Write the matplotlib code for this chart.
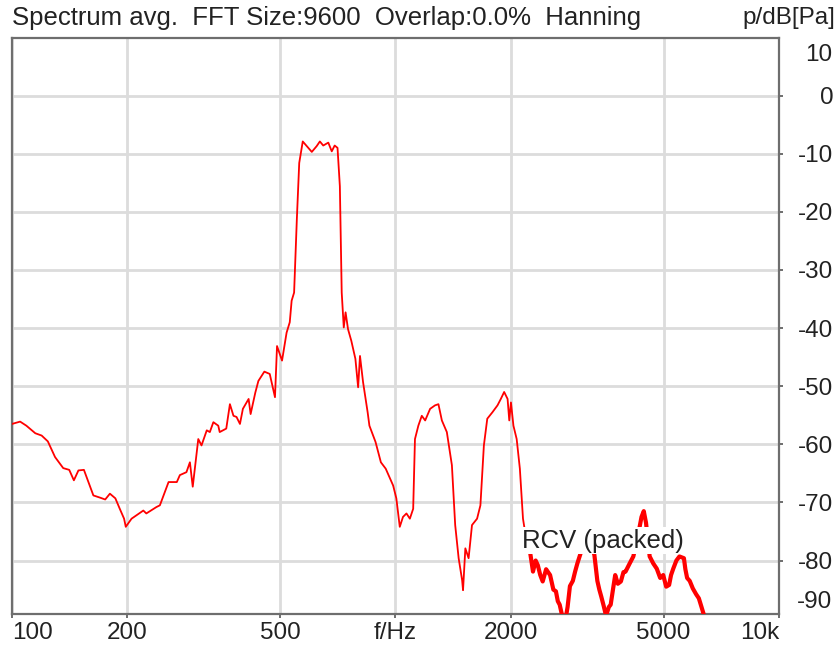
import numpy as np
import matplotlib.pyplot as plt

### Spectrum values (f in Hz, level in dB)
freq = [100, 105, 109, 115, 119.5, 124, 129.5, 136, 141, 145, 149, 154, 157, 163,
        170, 175, 180, 186, 191, 196, 198, 205, 220, 224, 238, 243, 256, 269, 274,
        285, 291, 296, 306, 312, 322, 328, 335, 345, 348, 362, 370, 378, 385, 393,
        400, 414, 419, 431, 439, 455, 470, 485, 491, 506, 520, 530, 536, 544, 553,
        561, 573, 587, 605, 623, 635, 648, 668, 682, 694, 706, 716, 724, 733, 741,
        752, 767, 786, 799, 808, 823, 846, 855, 887, 916, 943, 986, 1005, 1026,
        1046, 1068, 1090, 1112, 1124, 1147, 1171, 1195, 1231, 1268, 1294, 1321,
        1361, 1403, 1431, 1461, 1492, 1500, 1521, 1551, 1583, 1632, 1665, 1700,
        1735, 1789, 1845, 1882, 1920, 1960, 1980, 2000, 2030, 2070, 2110, 2150,
        2200, 2250, 2283, 2320, 2350, 2385, 2420, 2470, 2530, 2580, 2620, 2650,
        2680, 2720, 2770, 2810, 2850, 2900, 2940, 2980, 3020, 3100, 3200, 3300,
        3360, 3400, 3440, 3490, 3540, 3600, 3640, 3700, 3740, 3800, 3870, 3930,
        3980, 4080, 4170, 4280, 4380, 4440, 4500, 4600, 4700, 4800, 4900, 4990,
        5080, 5170, 5230, 5300, 5400, 5500, 5650, 5700, 5760, 5850, 5960, 6080,
        6180, 6280, 6380, 6500]
level = [-56.5, -56.1, -56.8, -58.1, -58.5, -59.5, -62.2, -64.1, -64.4, -66.2, -64.5,
         -64.4, -65.9, -68.8, -69.2, -69.5, -68.5, -69.3, -71.1, -72.8, -74.2, -72.8,
         -71.4, -71.9, -70.8, -70.5, -66.5, -66.5, -65.3, -64.8, -63.1, -67.3, -59.1,
         -60.2, -57.6, -57.9, -56.2, -56.8, -57.9, -57.3, -53.1, -55.1, -55.3, -56.5,
         -53.9, -52.2, -54.8, -51.1, -49.1, -47.5, -47.9, -51.9, -43.1, -45.6, -40.8,
         -39.0, -35.3, -33.9, -21.3, -11.6, -7.9, -8.7, -9.7, -8.7, -7.9, -8.6, -8.1,
         -9.6, -8.6, -9.0, -15.6, -33.9, -39.9, -37.3, -40.2, -42.2, -45.3, -50.2,
         -44.8, -49.3, -54.5, -56.8, -59.6, -63.1, -64.2, -67.1, -69.3, -74.2, -72.5,
         -71.9, -72.8, -71.1, -59.1, -56.8, -55.1, -55.9, -53.9, -53.3, -53.1, -55.9,
         -57.9, -63.6, -73.9, -79.6, -83.4, -85.1, -77.9, -79.6, -73.9, -72.8, -70.5,
         -60.2, -55.6, -54.5, -53.3, -52.2, -51.0, -52.2, -55.9, -52.8, -56.8, -59.1,
         -64.2, -72.8, -77.0, -79.1, -81.9, -80.0, -80.8, -82.5, -83.6, -81.5, -82.5,
         -85.0, -85.3, -87.0, -87.6, -89.5, -90.5, -88.0, -84.4, -83.5, -81.9, -80.5,
         -79.3, -77.0, -76.5, -79.0, -83.5, -85.0, -86.2, -87.8, -89.5, -88.0, -87.6,
         -84.5, -82.5, -84.0, -83.6, -82.0, -81.9, -80.5, -79.3, -76.0, -72.5, -71.5,
         -73.5, -79.3, -80.5, -81.4, -83.0, -82.5, -84.5, -84.2, -82.5, -81.4, -80.0,
         -79.3, -79.6, -81.5, -83.0, -83.5, -84.8, -85.8, -86.5, -88.0, -89.5, -91.0]

x_ticks = [100, 200, 500, 1000, 2000, 5000, 10000]
x_labels = ['100', '200', '500', 'f/Hz', '2000', '5000', '10k']
y_ticks = [0, -10, -20, -30, -40, -50, -60, -70, -80]

plt.rcParams['font.family'] = ['Liberation Sans', 'DejaVu Sans']
FS = 17.5
TXT = '#222222'

W, H = 837, 653
fig = plt.figure(figsize=(W / 100, H / 100), dpi=100)
ax = fig.add_axes([12 / W, 1 - 614 / H, (779 - 12) / W, (614 - 38) / H])

freq = np.array(freq)
level = np.array(level)
ax.plot(freq, level, color='#ff0000', lw=1.3, zorder=3)
### the high band is very noisy in the original, draw it thicker
hi = freq >= 2250
ax.plot(freq[hi], level[hi], color='#ff0000', lw=3.0, zorder=3)

ax.set_xscale('log')
ax.set_xlim(100, 10000)
ax.set_ylim(-89.2, 9.9)

ax.set_xticks(x_ticks)
ax.set_xticklabels(x_labels)
ax.xaxis.set_minor_locator(plt.NullLocator())
ax.set_yticks(y_ticks)
ax.set_yticklabels([str(v) for v in y_ticks])
ax.yaxis.tick_right()

ax.grid(True, color='#dcdcdc', lw=2.0, zorder=0)
for s in ax.spines.values():
    s.set_color('#6e6e6e')
    s.set_linewidth(1.6)

ax.tick_params(axis='both', colors='#6e6e6e', labelcolor=TXT,
               labelsize=FS, length=3, width=1.4, direction='out')
ax.tick_params(axis='y', pad=36)
for t in ax.get_yticklabels():
    t.set_ha('right')
ax.tick_params(axis='x', pad=3)
xl = ax.get_xticklabels()
xl[0].set_ha('left')
xl[-1].set_ha('right')

### end labels that are moved inside the frame
tr = ax.get_yaxis_transform()
ax.text(1 + 53 / 767, 7.0, '10', transform=tr, ha='right', va='center',
        fontsize=FS, color=TXT)
ax.text(1 + 53 / 767, -87.2, '-90', transform=tr, ha='right', va='center',
        fontsize=FS, color=TXT)

ax.text(2140, -76.6, 'RCV (packed)', fontsize=18.5, color=TXT, ha='left',
        va='center', zorder=5,
        bbox=dict(facecolor='white', edgecolor='none', pad=1.0))

fig.text(12 / W, 1 - 18 / H, 'Spectrum avg.  FFT Size:9600  Overlap:0.0%  Hanning',
         fontsize=18.5, color=TXT, ha='left', va='center')
fig.text(835 / W, 1 - 18 / H, 'p/dB[Pa]', fontsize=FS, color=TXT,
         ha='right', va='center')

fig.savefig('out.png', dpi=100)
